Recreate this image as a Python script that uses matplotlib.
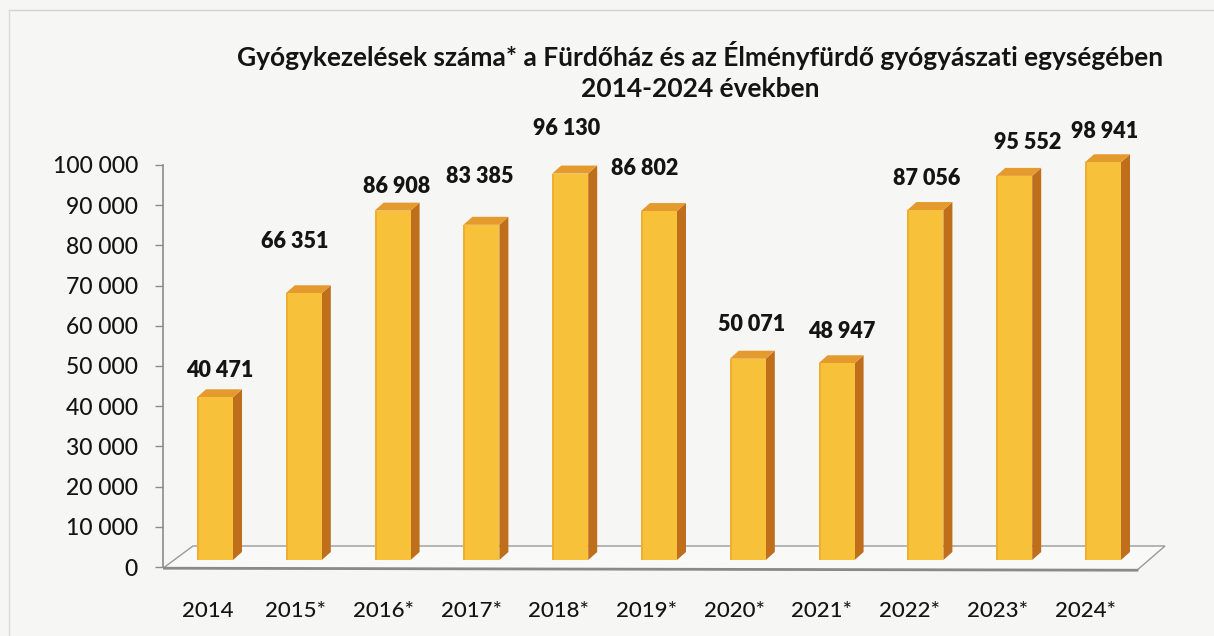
import matplotlib
matplotlib.use("Agg")
import matplotlib.pyplot as plt
from matplotlib.patches import Polygon
from matplotlib.lines import Line2D

# ---------------- data ----------------
categories = ["2014", "2015*", "2016*", "2017*", "2018*", "2019*",
              "2020*", "2021*", "2022*", "2023*", "2024*"]
values = [40471, 66351, 86908, 83385, 96130, 86802,
          50071, 48947, 87056, 95552, 98941]
value_labels = ["40 471", "66 351", "86 908", "83 385", "96 130", "86 802",
                "50 071", "48 947", "87 056", "95 552", "98 941"]
yticks = list(range(0, 100001, 10000))
ytick_labels = ["0", "10 000", "20 000", "30 000", "40 000", "50 000",
                "60 000", "70 000", "80 000", "90 000", "100 000"]
title = ("Gyógykezelések száma* a Fürdőház és az Élményfürdő gyógyászati egységében\n"
         "2014-2024 években")

# label placement tweaks (pixels, relative to bar top centre)
label_dx = [0, -14, 0, -6, -8, -19, -1, 1, -3, 9, -3]
label_dy = [19, 44, 16, 40, 37, 35, 26, 24, 24, 25, 23]

# ---------------- layout ----------------
W, H, DPI = 1214, 636, 100
fig = plt.figure(figsize=(W / DPI, H / DPI), dpi=DPI)
bg = "#F6F6F4"
fig.patch.set_facecolor(bg)

FONT = ["Lato", "DejaVu Sans"]
TXT = "#141414"

# pixel geometry
px0, spacing = 215.0, 88.8        # bar 0 centre, bar spacing (px)
y0px, pxper = 567.0, 402.0 / 100000  # pixel of value 0, px per unit
upp = 1 / pxper                    # units per px

ax_left_px, ax_right_px = 163.0, 1170.0
ax_top_px, ax_bot_px = 120.0, 600.0
xmin = (ax_left_px - px0) / spacing
xmax = (ax_right_px - px0) / spacing
ymin = -(ax_bot_px - y0px) * upp
ymax = (y0px - ax_top_px) * upp

ax = fig.add_axes([ax_left_px / W, 1 - ax_bot_px / H,
                   (ax_right_px - ax_left_px) / W, (ax_bot_px - ax_top_px) / H])
ax.set_xlim(xmin, xmax)
ax.set_ylim(ymin, ymax)
ax.set_facecolor("none")
for s in ["top", "right", "bottom"]:
    ax.spines[s].set_visible(False)
ax.spines["left"].set_bounds(0, 100000)
ax.spines["left"].set_color("#8C8C8C")
ax.spines["left"].set_linewidth(1.2)
ax.set_yticks(yticks)
ax.set_yticklabels(ytick_labels, fontsize=16.5, family=FONT, color=TXT,
                   fontweight="medium")
ax.tick_params(axis="y", direction="out", length=6, width=1, color="#8C8C8C", pad=12)
ax.set_xticks([])

# floor parallelogram
fl_front = -0.3 * 1000
fl_back = (y0px - 546) * upp
floor_pts = [(xmin, fl_front), ((1137 - px0) / spacing, fl_front - 500),
             ((1165 - px0) / spacing, fl_back), ((193 - px0) / spacing, fl_back)]
ax.add_patch(Polygon(floor_pts, closed=True, facecolor="#F9F9F8",
                     edgecolor="#9A9A9A", lw=1.0, zorder=1))
ax.add_line(Line2D([floor_pts[0][0], floor_pts[1][0]],
                   [floor_pts[0][1], floor_pts[1][1]],
                   color="#8A8A8A", lw=2.0, zorder=1.5))

# bars
half_w = 18 / spacing
dxs = 9 / spacing
dys = 8 * upp
base = 7 * upp
c_front = "#F8C13A"
c_front_edge = "#F0AE30"
c_side = "#BF6F1C"
c_top = "#E59A2E"
for i, v in enumerate(values):
    xl, xr = i - half_w, i + half_w
    yb, yt = base, v + base
    side = [(xr, yb), (xr + dxs, yb + dys), (xr + dxs, yt + dys), (xr, yt)]
    top = [(xl, yt), (xr, yt), (xr + dxs, yt + dys), (xl + dxs, yt + dys)]
    front = [(xl, yb), (xr, yb), (xr, yt), (xl, yt)]
    ax.add_patch(Polygon(side, closed=True, facecolor=c_side, edgecolor="none", zorder=3))
    ax.add_patch(Polygon(top, closed=True, facecolor=c_top, edgecolor="none", zorder=3))
    ax.add_patch(Polygon(front, closed=True, facecolor=c_front, edgecolor="none", zorder=4))
    strip = [(xl, yb), (xl + 2 / spacing, yb), (xl + 2 / spacing, yt), (xl, yt)]
    ax.add_patch(Polygon(strip, closed=True, facecolor=c_front_edge, edgecolor="none", zorder=4))
    ax.annotate(value_labels[i], xy=(i + dxs / 2, yt + dys),
                xytext=(label_dx[i], label_dy[i]), textcoords="offset pixels",
                ha="center", va="center", fontsize=15.5, fontweight="heavy",
                family=FONT, color=TXT, zorder=5)
    ax.annotate(categories[i], xy=(i, 0),
                xytext=(-7 - 1.1 * i, -44), textcoords="offset pixels",
                ha="center", va="center", fontsize=16, family=FONT,
                fontweight="medium", color=TXT, annotation_clip=False)

# title
fig.text(700 / W, 1 - 71 / H, title, ha="center", va="center", fontsize=19,
         fontweight="bold", family=FONT, color=TXT, linespacing=1.38)

# faint scan frame (top and left)
fig.add_artist(Line2D([9 / W, 1], [1 - 10 / H, 1 - 10 / H], color="#D2D2D2", lw=1.0))
fig.add_artist(Line2D([9 / W, 9 / W], [0, 1 - 10 / H], color="#DADADA", lw=1.0))

fig.savefig("out.png", dpi=DPI, facecolor=fig.get_facecolor())
